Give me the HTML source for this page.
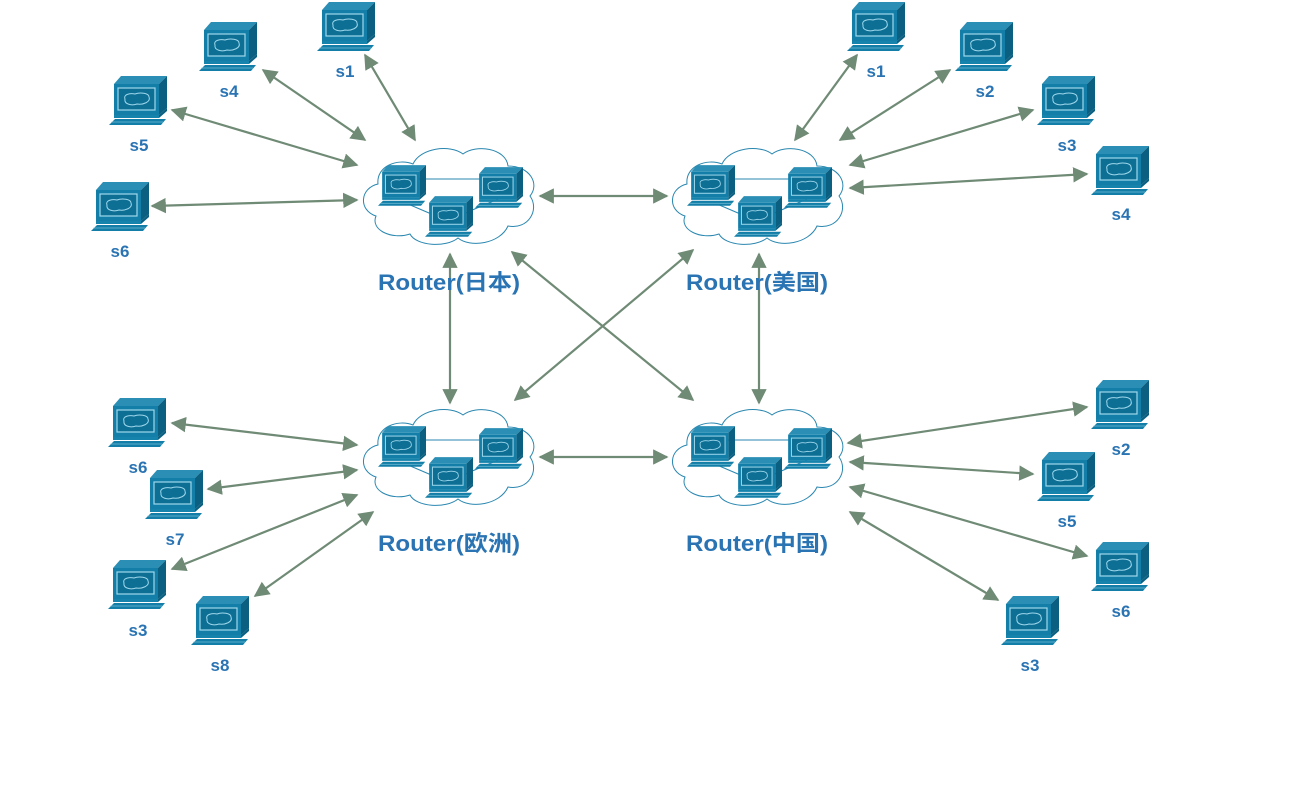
<!DOCTYPE html>
<html><head><meta charset="utf-8"><style>
html,body{margin:0;padding:0;background:#fff;}
svg{display:block;}
text{font-family:"Liberation Sans","Noto Sans CJK SC",sans-serif;font-weight:bold;fill:#2a74b3;}
</style></head><body>
<svg width="1296" height="790" viewBox="0 0 1296 790" xmlns="http://www.w3.org/2000/svg">
<defs>
<symbol id="pc" viewBox="0 0 58 50">
  <polygon points="5,9 12,1 58,1 50,9" fill="#2b8fb5"/>
  <polygon points="50,9 58,1 58,33 50,40" fill="#0b5f80"/>
  <rect x="5" y="9" width="45" height="31" fill="#137fa8"/>
  <rect x="9" y="13" width="37" height="22" fill="#0e6f95" stroke="#9fd8ec" stroke-width="1.2"/>
  <path d="M16,24 C14,19 22,18 26,19 C31,17 40,18 40,22 C42,27 34,30 28,29 C22,31 15,29 16,24Z" fill="none" stroke="#9fd8ec" stroke-width="1"/>
  <rect x="5" y="40" width="45" height="3" fill="#1683ad"/>
  <polygon points="50,40 58,33 58,36 50,43" fill="#0b5f80"/>
  <polygon points="0,50 6,44 57,44 52,50" fill="#137fa8"/>
  <line x1="2" y1="47" x2="54" y2="47" stroke="#9fd8ec" stroke-width="0.6"/>
</symbol>
<symbol id="cloud" viewBox="0 0 180 104">
  <path d="M20,40 C18,22 40,14 55,20 C62,4 92,0 105,10 C118,0 148,4 150,22 C172,22 182,40 172,52 C182,66 170,86 150,82 C142,100 112,104 100,94 C88,104 58,102 52,90 C34,96 12,86 18,72 C0,66 2,44 20,40Z" fill="#fff" stroke="#2a87b0" stroke-width="1"/>
</symbol>
<g id="router">
  <use href="#cloud" x="0" y="0" width="180" height="104"/>
  <line x1="50" y1="35" x2="140" y2="35" stroke="#2a87b0" stroke-width="1"/>
  <line x1="50" y1="60" x2="85" y2="75" stroke="#2a87b0" stroke-width="1"/>
  <line x1="140" y1="55" x2="105" y2="70" stroke="#2a87b0" stroke-width="1"/>
  <use href="#pc" x="20" y="17" width="48" height="48"/>
  <use href="#pc" x="117" y="19" width="48" height="48"/>
  <use href="#pc" x="67" y="48" width="48" height="48"/>
</g>
<marker id="ah" viewBox="0 0 10 10" refX="9" refY="5" markerWidth="7" markerHeight="7" orient="auto-start-reverse" markerUnits="strokeWidth">
  <path d="M0,0 L10,5 L0,10 Z" fill="#6f8a75"/>
</marker>
</defs>

<use href="#router" x="358" y="144"/>
<use href="#router" x="667" y="144"/>
<use href="#router" x="358" y="405"/>
<use href="#router" x="667" y="405"/>

<g stroke="#6f8a75" stroke-width="2.2" marker-start="url(#ah)" marker-end="url(#ah)" fill="none">
  <line x1="415" y1="140" x2="365" y2="55"/>
  <line x1="365" y1="140" x2="263" y2="70"/>
  <line x1="357" y1="165" x2="172" y2="110"/>
  <line x1="357" y1="200" x2="152" y2="206"/>
  <line x1="795" y1="140" x2="857" y2="55"/>
  <line x1="840" y1="140" x2="950" y2="70"/>
  <line x1="850" y1="165" x2="1033" y2="110"/>
  <line x1="850" y1="188" x2="1087" y2="174"/>
  <line x1="540" y1="196" x2="667" y2="196"/>
  <line x1="450" y1="254" x2="450" y2="403"/>
  <line x1="759" y1="254" x2="759" y2="403"/>
  <line x1="512" y1="252" x2="693" y2="400"/>
  <line x1="693" y1="250" x2="515" y2="400"/>
  <line x1="540" y1="457" x2="667" y2="457"/>
  <line x1="357" y1="445" x2="172" y2="423"/>
  <line x1="357" y1="470" x2="208" y2="489"/>
  <line x1="357" y1="495" x2="172" y2="569"/>
  <line x1="373" y1="512" x2="255" y2="596"/>
  <line x1="848" y1="443" x2="1087" y2="407"/>
  <line x1="850" y1="462" x2="1033" y2="474"/>
  <line x1="850" y1="487" x2="1087" y2="556"/>
  <line x1="850" y1="512" x2="998" y2="600"/>
</g>

<use href="#pc" x="317" y="1" width="58" height="50"/>
<use href="#pc" x="199" y="21" width="58" height="50"/>
<use href="#pc" x="109" y="75" width="58" height="50"/>
<use href="#pc" x="91" y="181" width="58" height="50"/>
<use href="#pc" x="847" y="1" width="58" height="50"/>
<use href="#pc" x="955" y="21" width="58" height="50"/>
<use href="#pc" x="1037" y="75" width="58" height="50"/>
<use href="#pc" x="1091" y="145" width="58" height="50"/>
<use href="#pc" x="108" y="397" width="58" height="50"/>
<use href="#pc" x="145" y="469" width="58" height="50"/>
<use href="#pc" x="108" y="559" width="58" height="50"/>
<use href="#pc" x="191" y="595" width="58" height="50"/>
<use href="#pc" x="1091" y="379" width="58" height="50"/>
<use href="#pc" x="1037" y="451" width="58" height="50"/>
<use href="#pc" x="1091" y="541" width="58" height="50"/>
<use href="#pc" x="1001" y="595" width="58" height="50"/>

<g font-size="17" text-anchor="middle">
  <text x="345" y="77">s1</text>
  <text x="229" y="97">s4</text>
  <text x="139" y="151">s5</text>
  <text x="120" y="257">s6</text>
  <text x="876" y="77">s1</text>
  <text x="985" y="97">s2</text>
  <text x="1067" y="151">s3</text>
  <text x="1121" y="220">s4</text>
  <text x="138" y="473">s6</text>
  <text x="175" y="545">s7</text>
  <text x="138" y="636">s3</text>
  <text x="220" y="671">s8</text>
  <text x="1121" y="455">s2</text>
  <text x="1067" y="527">s5</text>
  <text x="1121" y="617">s6</text>
  <text x="1030" y="671">s3</text>
</g>
<g font-size="22">
  <text x="378" y="290" textLength="142" lengthAdjust="spacingAndGlyphs">Router(日本)</text>
  <text x="686" y="290" textLength="142" lengthAdjust="spacingAndGlyphs">Router(美国)</text>
  <text x="378" y="551" textLength="142" lengthAdjust="spacingAndGlyphs">Router(欧洲)</text>
  <text x="686" y="551" textLength="142" lengthAdjust="spacingAndGlyphs">Router(中国)</text>
</g>
</svg>
</body></html>
